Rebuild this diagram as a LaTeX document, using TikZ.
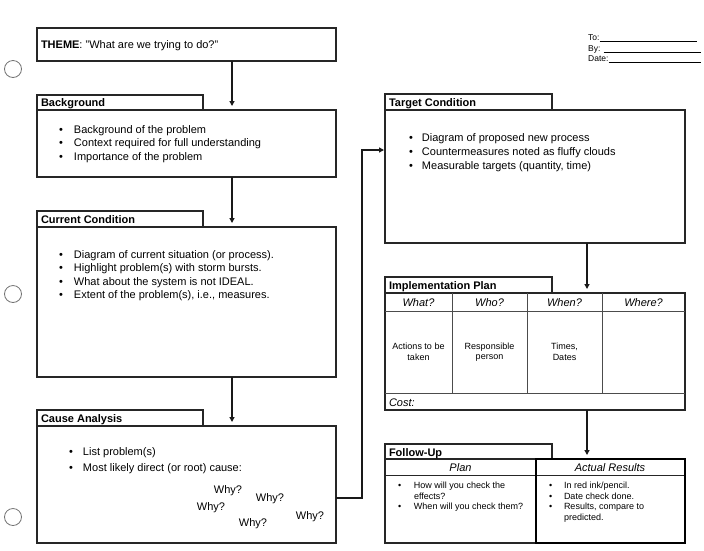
\documentclass[tikz,border=0pt]{standalone}
\usepackage{fontspec}
\setmainfont{Liberation Sans}
\usetikzlibrary{arrows.meta}
\newcommand\bl[1]{\makebox[#1][l]{\textbullet}}
\begin{document}
\begin{tikzpicture}[x=1pt,y=-1pt,
  box/.style={draw=black!85, line width=1.1pt, anchor=north west, inner sep=0pt, outer sep=0pt},
  thickbox/.style={box, draw=black, line width=2.2pt},
  gridl/.style={draw=black!70, line width=0.8pt},
  txt/.style={anchor=base west, inner sep=0pt, outer sep=0pt, font=\fontsize{11}{13.5}\selectfont},
  ttl/.style={txt, font=\fontsize{11}{13.5}\selectfont\bfseries},
  hdr/.style={anchor=base, inner sep=0pt, font=\fontsize{11}{13.5}\selectfont\itshape},
  small/.style={inner sep=0pt, font=\fontsize{9}{10.5}\selectfont},
  tiny/.style={anchor=base west, inner sep=0pt, font=\fontsize{8.5}{10.5}\selectfont},
  why/.style={anchor=base, inner sep=0pt, font=\fontsize{11}{13.5}\selectfont},
  hole/.style={draw=black!55, line width=0.8pt},
  arr/.style={draw=black!90, line width=1.3pt, shorten >=4pt, -{Triangle[length=5pt,width=5pt]}}
]
\useasboundingbox (0,0) rectangle (704,550);

% punch holes
\draw[hole] (13,69) circle (8.5);
\draw[hole] (13,294) circle (8.5);
\draw[hole] (13,517) circle (8.5);

% To / By / Date
\node[tiny] (to) at (588,40) {To:\rule[-1.2pt]{97pt}{0.6pt}};
\node[tiny] (by) at (588,51) {By: \rule[-1.2pt]{97pt}{0.6pt}};
\node[tiny] (date) at (588,61.5) {Date:\rule[-1.2pt]{92pt}{0.6pt}};

% THEME
\node[box, minimum width=299pt, minimum height=33pt] (theme) at (37,28) {};
\node[txt] (themet) at (41,48) {\textbf{THEME}: "What are we trying to do?"};

% Background
\node[box, minimum width=166pt, minimum height=15pt] (bgtab) at (37,95) {};
\node[box, minimum width=299pt, minimum height=67pt] (bg) at (37,110) {};
\node[ttl] (bgt) at (41,106) {Background};
\node[txt] (bgl) at (59,133) {\begin{tabular}[t]{@{}l@{}l@{}}
\bl{15pt} & Background of the problem\\
\bl{15pt} & Context required for full understanding\\
\bl{15pt} & Importance of the problem
\end{tabular}};

% Current Condition
\node[box, minimum width=166pt, minimum height=16pt] (cctab) at (37,211) {};
\node[box, minimum width=299pt, minimum height=150pt] (cc) at (37,227) {};
\node[ttl] (cct) at (41,223) {Current Condition};
\node[txt] (ccl) at (59,258) {\begin{tabular}[t]{@{}l@{}l@{}}
\bl{15pt} & Diagram of current situation (or process).\\
\bl{15pt} & Highlight problem(s) with storm bursts.\\
\bl{15pt} & What about the system is not IDEAL.\\
\bl{15pt} & Extent of the problem(s), i.e., measures.
\end{tabular}};

% Cause Analysis
\node[box, minimum width=166pt, minimum height=16pt] (catab) at (37,410) {};
\node[box, minimum width=299pt, minimum height=117pt] (ca) at (37,426) {};
\node[ttl] (cat) at (41,422) {Cause Analysis};
\node[txt, font=\fontsize{11}{16}\selectfont] (cal) at (69,455) {\begin{tabular}[t]{@{}l@{}l@{}}
\bl{14pt} & List problem(s)\\
\bl{14pt} & Most likely direct (or root) cause:
\end{tabular}};
\node[why] (w1) at (228,493) {Why?};
\node[why] (w2) at (270,501) {Why?};
\node[why] (w3) at (211,510) {Why?};
\node[why] (w4) at (253,526) {Why?};
\node[why] (w5) at (310,519) {Why?};

% Target Condition
\node[box, minimum width=167pt, minimum height=16pt] (tgtab) at (385,94) {};
\node[box, minimum width=300pt, minimum height=133pt] (tg) at (385,110) {};
\node[ttl] (tgt) at (389,106) {Target Condition};
\node[txt, font=\fontsize{11}{14}\selectfont] (tgl) at (409,141) {\begin{tabular}[t]{@{}l@{}l@{}}
\bl{13pt} & Diagram of proposed new process\\
\bl{13pt} & Countermeasures noted as fluffy clouds\\
\bl{13pt} & Measurable targets (quantity, time)
\end{tabular}};

% Implementation Plan
\node[box, minimum width=167pt, minimum height=16pt] (iptab) at (385,277) {};
\node[box, minimum width=300pt, minimum height=117pt] (ip) at (385,293) {};
\node[ttl] (ipt) at (389,289) {Implementation Plan};
\draw[gridl] ([yshift=-18pt]ip.north west) -- ([yshift=-18pt]ip.north east);
\draw[gridl] ([yshift=-100pt]ip.north west) -- ([yshift=-100pt]ip.north east);
\foreach \dx in {67,142,217}
  \draw[gridl] ([xshift=\dx pt]ip.north west) -- ([xshift=\dx pt,yshift=-100pt]ip.north west);
\node[hdr] (h1) at (418.5,306) {What?};
\node[hdr] (h2) at (489.5,306) {Who?};
\node[hdr] (h3) at (564.5,306) {When?};
\node[hdr] (h4) at (643.5,306) {Where?};
\node[small, align=center] (c1) at (418.5,352) {Actions to be\\taken};
\node[small, align=center] (c2) at (489.5,352) {Responsible\\person};
\node[small, align=center] (c3) at (564.5,352) {Times,\\Dates};
\node[txt, font=\fontsize{11}{13.5}\selectfont\itshape] (cost) at (389,406) {Cost:};

% Follow-Up
\node[box, minimum width=167pt, minimum height=15pt] (futab) at (385,444) {};
\node[box, minimum width=300pt, minimum height=84pt] (fu) at (385,459) {};
\node[ttl] (fut) at (389,456) {Follow-Up};
\draw[gridl, draw=black!85, line width=1pt] ([yshift=-16pt]fu.north west) -- ([yshift=-16pt]fu.north east);
\node[thickbox, minimum width=149pt, minimum height=84pt] (act) at (536,459) {};
\node[hdr] (fph) at (460.5,471) {Plan};
\node[hdr] (fah) at (610,471) {Actual Results};
\node[txt, font=\fontsize{9}{10.5}\selectfont] (fpl) at (398,488.5) {\begin{tabular}[t]{@{}l@{}l@{}}
\bl{16pt} & How will you check the\\
 & effects?\\
\bl{16pt} & When will you check them?
\end{tabular}};
\node[txt, font=\fontsize{9}{10.5}\selectfont] (fal) at (549,488.5) {\begin{tabular}[t]{@{}l@{}l@{}}
\bl{15pt} & In red ink/pencil.\\
\bl{15pt} & Date check done.\\
\bl{15pt} & Results, compare to\\
 & predicted.
\end{tabular}};

% connectors
\draw[arr] ([xshift=195pt]theme.south west) -- ([xshift=195pt]bg.north west);
\draw[arr] ([xshift=195pt]bg.south west) -- ([xshift=195pt]cc.north west);
\draw[arr] ([xshift=195pt]cc.south west) -- ([xshift=195pt]ca.north west);
\draw[arr, shorten >=1pt] ([yshift=-13.5pt]ca.east) -- ++(26,0) |- ([yshift=26.5pt]tg.west);
\draw[arr] ([xshift=202pt]tg.south west) -- ([xshift=202pt]ip.north west);
\draw[arr] ([xshift=202pt]ip.south west) -- ([xshift=202pt]fu.north west);
\end{tikzpicture}
\end{document}
